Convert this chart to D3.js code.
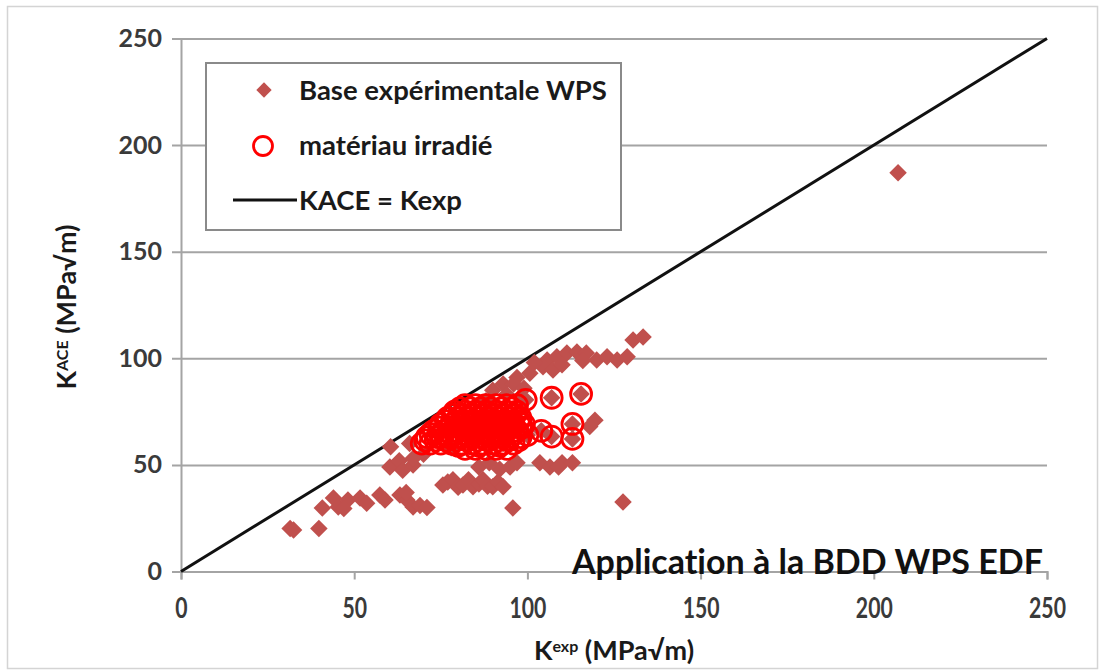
<!DOCTYPE html>
<html>
<head>
<meta charset="utf-8">
<script src="https://cdn.jsdelivr.net/npm/d3@7/dist/d3.min.js"></script>
<style>
  html, body { margin: 0; padding: 0; background: #fff; }
  svg { display: block; font-family: Lato, "Open Sans", sans-serif; font-variant-ligatures: none; }
</style>
</head>
<body>
<svg id="chart" width="1104" height="671"></svg>
<script>
// Experimental WPS database: [Kexp, KACE] in MPa√m
const baseWPS = [
  [31.5,20.2],[32.5,19.5],[39.8,20.2],[40.8,29.8],[44,34.5],[45.4,30.3],[48.2,33.5],[47,29.5],
  [51.7,34.5],[53.6,32],[57.4,35.9],[58.9,33.5],[63.2,35.9],[65.2,33.5],[67,30.3],[69,31],[71,30],
  [65,37],[60.5,58.5],[60.3,49],[63,52],[64,47.5],[67,50],[67,53],[66,60],[70,55],
  [75.6,40.6],[77,42],[78.5,43],[80,39.5],[81.4,40.6],[83,43],[84.3,39.7],[86,41],[87.2,43],
  [88.5,40],[90,39.7],[91.5,42],[93,39.7],[95.8,29.8],
  [86,49],[89,51],[92,48],[95,49],[97,51],[103.6,51],[106.5,49],[110,51],[113,51],[109,49],
  [105.7,99.2],[108.5,100.7],[111.4,102.5],[114.3,103],[117,102.5],[120,99.2],[123,100.7],
  [125.9,99.2],[128.8,100.7],[130.5,108.6],[133.4,110],[104.5,96],[107.4,94.5],[97,91],
  [100.7,93],[110,97],[116,99],[102,98],
  [90,85],[93,88],[96,88],[99,86],[94,83],[98,82],[88,80],
  [119.5,71],[118,68],
  [99.5,80.5],[107,81.5],[115.5,83.3],[107,63.3],[113,69.2],[113,62.2],[104,66],[100,64],
  [75,65],[80,70],[85,62],[90,68],[95,72],[78,58],[88,74],[93,60],
  [127.6,32.6],[207,187]
];

// Irradiated material subset: [Kexp, KACE]
const irradiated = [
  [82,57.5],[85,57.5],[88,57.5],[91,57.5],[94,57.5],
  [80,59],[86,59],[92,59],
  [69.5,60],[72,60],[75,60],[78,60],[81,60],[84,60],[87,60],[90,60],[93,60],[96,60],
  [70.5,61.5],[73.5,61.5],[76.5,61.5],[79.5,61.5],[82.5,61.5],[85.5,61.5],[88.5,61.5],[91.5,61.5],[94.5,61.5],[97.5,61.5],
  [71,63],[74,63],[77,63],[80,63],[83,63],[86,63],[89,63],[92,63],[95,63],[98,63],
  [72,64.5],[75,64.5],[78,64.5],[81,64.5],[84,64.5],[87,64.5],[90,64.5],[93,64.5],[96,64.5],
  [73,66],[76,66],[79,66],[82,66],[85,66],[88,66],[91,66],[94,66],[97,66],
  [74.5,67.5],[77.5,67.5],[80.5,67.5],[83.5,67.5],[86.5,67.5],[89.5,67.5],[92.5,67.5],[95.5,67.5],[98.5,67.5],
  [75,69],[78,69],[81,69],[84,69],[87,69],[90,69],[93,69],[96,69],[99,69],
  [76.5,70.5],[79.5,70.5],[82.5,70.5],[85.5,70.5],[88.5,70.5],[91.5,70.5],[94.5,70.5],[97.5,70.5],
  [77,72],[80,72],[83,72],[86,72],[89,72],[92,72],[95,72],[98,72],
  [78.5,73.5],[81.5,73.5],[84.5,73.5],[87.5,73.5],[90.5,73.5],[93.5,73.5],[96.5,73.5],
  [79,75],[82,75],[85,75],[88,75],[91,75],[94,75],[97,75],
  [80.5,76.5],[83.5,76.5],[86.5,76.5],[89.5,76.5],[92.5,76.5],[95.5,76.5],
  [82,78],[85,78],[88,78],[91,78],[94,78],[97,78],
  [99.5,80.5],[107,81.5],[115.5,83.3],[107,63.3],[113,69.2],[113,62.2],[104,66],[100,64]
];

// Reference line KACE = Kexp
const refLine = [[0,0],[250,250]];

const xTicks = [0, 50, 100, 150, 200, 250];
const yTicks = [0, 50, 100, 150, 200, 250];

const legendLabels = ["Base expérimentale WPS", "matériau irradié", "KACE = Kexp"];
const annotation = "Application à la BDD WPS EDF";

const svg = d3.select("#chart");
const plot = { left: 181, right: 1047, top: 38.5, bottom: 571.5 };

const x = d3.scaleLinear().domain([0, 250]).range([plot.left, plot.right]);
const y = d3.scaleLinear().domain([0, 250]).range([plot.bottom, plot.top]);

const gridColor = "#a4a4a4";
const diamondColor = "#c0504d";
const circleColor = "#ff0000";

// outer frame
svg.append("rect")
  .attr("x", 7.5).attr("y", 6.5).attr("width", 1090).attr("height", 662)
  .attr("fill", "#fff").attr("stroke", "#d4d4d4").attr("stroke-width", 1.5);

// horizontal gridlines + y axis
const yAxis = d3.axisLeft(y).tickValues(yTicks).tickSizeOuter(0).tickPadding(10);
const gy = svg.append("g").attr("transform", `translate(${plot.left},0)`).call(yAxis);
gy.select(".domain").attr("stroke", gridColor).attr("stroke-width", 2);
gy.selectAll(".tick line")
  .attr("x1", -9).attr("x2", plot.right - plot.left)
  .attr("stroke", gridColor).attr("stroke-width", 2);
gy.selectAll(".tick text")
  .attr("x", -19)
  .attr("fill", "#3a3a3a")
  .style("font-family", "Lato, sans-serif")
  .style("font-weight", "700")
  .style("font-size", "25px");

// x axis
const xAxis = d3.axisBottom(x).tickValues(xTicks).tickSizeOuter(0).tickSize(8).tickPadding(28);
const gx = svg.append("g").attr("transform", `translate(0,${plot.bottom})`).call(xAxis);
gx.select(".domain").attr("stroke", gridColor).attr("stroke-width", 2);
gx.selectAll(".tick line").attr("stroke", gridColor).attr("stroke-width", 2);
gx.selectAll(".tick text")
  .attr("fill", "#3a3a3a")
  .attr("dy", "0.35em")
  .style("font-family", "Lato, sans-serif")
  .style("font-weight", "700")
  .style("font-size", "29px")
  .each(function() {
    const el = d3.select(this);
    const n = el.text().length;
    el.attr("textLength", n * 12.3).attr("lengthAdjust", "spacingAndGlyphs");
  });

// reference line
const line = d3.line().x(d => x(d[0])).y(d => y(d[1]));
svg.append("path").datum(refLine)
  .attr("d", line).attr("fill", "none")
  .attr("stroke", "#111").attr("stroke-width", 3);

// diamonds
const diamond = d3.symbol().type(d3.symbolDiamond2).size(195);
svg.append("g").selectAll("path").data(baseWPS).join("path")
  .attr("d", diamond)
  .attr("transform", d => `translate(${x(d[0])},${y(d[1])})`)
  .attr("fill", diamondColor);

// irradiated circles
svg.append("g").selectAll("circle").data(irradiated).join("circle")
  .attr("cx", d => x(d[0])).attr("cy", d => y(d[1])).attr("r", 10.5)
  .attr("fill", "none").attr("stroke", circleColor).attr("stroke-width", 2.8);

// legend
const lg = svg.append("g");
lg.append("rect").attr("x", 206).attr("y", 63).attr("width", 415).attr("height", 167)
  .attr("fill", "#fff").attr("stroke", "#8a8a8a").attr("stroke-width", 2);
lg.append("path").attr("d", d3.symbol().type(d3.symbolDiamond2).size(150))
  .attr("transform", "translate(264,90)")
  .attr("fill", diamondColor);
lg.append("circle").attr("cx", 263).attr("cy", 146).attr("r", 9.5)
  .attr("fill", "none").attr("stroke", circleColor).attr("stroke-width", 2.8);
lg.append("line").attr("x1", 233).attr("x2", 297).attr("y1", 200).attr("y2", 200)
  .attr("stroke", "#111").attr("stroke-width", 3);
lg.selectAll("text.leg").data(legendLabels).join("text")
  .attr("class", "leg")
  .attr("x", 299).attr("y", (d, i) => 90 + i * 55)
  .attr("dy", "0.35em")
  .attr("fill", "#1a1a1a")
  .style("font-family", "Lato, sans-serif")
  .style("font-weight", "700")
  .style("font-size", "27.5px")
  .text(d => d);

// annotation
svg.append("text")
  .attr("x", 572).attr("y", 574)
  .attr("fill", "#111")
  .style("font-family", "Lato, sans-serif")
  .style("font-weight", "700")
  .style("font-size", "34px")
  .text(annotation);

// axis titles
const yt = svg.append("text")
  .attr("transform", `translate(76,${(plot.top + plot.bottom) / 2 + 2}) rotate(-90)`)
  .attr("text-anchor", "middle")
  .attr("fill", "#1a1a1a")
  .style("font-family", "Lato, sans-serif")
  .style("font-weight", "700")
  .style("font-size", "27px");
yt.append("tspan").text("K");
yt.append("tspan").attr("dy", -8).style("font-size", "16px").text("ACE");
yt.append("tspan").attr("dy", 8).text(" (MPa√m)");

const xt = svg.append("text")
  .attr("x", (plot.left + plot.right) / 2).attr("y", 660)
  .attr("text-anchor", "middle")
  .attr("fill", "#1a1a1a")
  .style("font-family", "Lato, sans-serif")
  .style("font-weight", "700")
  .style("font-size", "27px");
xt.append("tspan").text("K");
xt.append("tspan").attr("dy", -8).style("font-size", "16px").text("exp");
xt.append("tspan").attr("dy", 8).text(" (MPa√m)");
</script>
</body>
</html>
